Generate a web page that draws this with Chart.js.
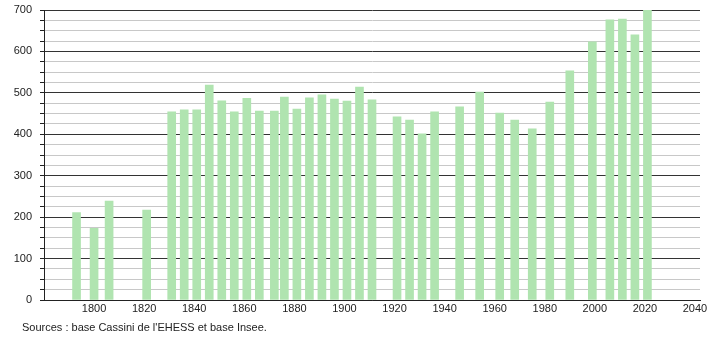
<!DOCTYPE html>
<html>
<head>
<meta charset="utf-8">
<script src="https://cdn.jsdelivr.net/npm/chart.js@4/dist/chart.umd.min.js"></script>
<style>
  body { margin: 0; background: #fff; }
  #wrap { position: relative; width: 710px; height: 340px; }
  #src {
    position: absolute; left: 22px; top: 321px;
    font: 11px "Liberation Sans", Arial, sans-serif; color: #222;
  }
</style>
</head>
<body>
<div id="wrap">
  <canvas id="pop" width="710" height="340"></canvas>
  <div id="src">Sources : base Cassini de l'EHESS et base Insee.</div>
</div>
<script>
// census years and population
const years = [1793, 1800, 1806, 1821, 1831, 1836, 1841, 1846, 1851, 1856, 1861, 1866,
  1872, 1876, 1881, 1886, 1891, 1896, 1901, 1906, 1911, 1921, 1926, 1931, 1936,
  1946, 1954, 1962, 1968, 1975, 1982, 1990, 1999, 2006, 2011, 2016, 2021];
const population = [211, 173, 239, 217, 454, 459, 459, 519, 481, 454, 487, 456,
  456, 490, 461, 488, 495, 485, 480, 514, 483, 442, 434, 401, 454,
  466, 502, 451, 434, 413, 478, 553, 623, 676, 678, 640, 700];
const xTicks = [1800, 1820, 1840, 1860, 1880, 1900, 1920, 1940, 1960, 1980, 2000, 2020, 2040];

const fontSpec = { family: '"Liberation Sans", Arial, sans-serif', size: 11 };

const ctx = document.getElementById('pop').getContext('2d');
new Chart(ctx, {
  type: 'bar',
  data: {
    datasets: [{
      data: years.map((y, i) => ({ x: y, y: population[i] })),
      backgroundColor: '#b0e4b0',
      borderWidth: 0,
      barThickness: 8,
    }],
  },
  options: {
    responsive: false,
    animation: false,
    layout: { padding: { top: 10, right: 10, left: 0, bottom: 0 } },
    plugins: { legend: { display: false }, tooltip: { enabled: false } },
    scales: {
      x: {
        type: 'linear',
        offset: false,
        min: 1780,
        max: 2042,
        afterBuildTicks: (s) => { s.ticks = xTicks.map((v) => ({ value: v })); },
        afterFit: (s) => { s.height = 40; s.paddingLeft = 0; s.paddingRight = 0; },
        grid: { display: false, drawTicks: false, offset: false },
        border: { color: '#222', width: 1 },
        ticks: {
          padding: 2,
          color: '#222',
          font: fontSpec,
          maxRotation: 0,
          autoSkip: false,
          callback: (v) => String(v),
        },
      },
      y: {
        min: 0,
        max: 700,
        afterFit: (s) => { s.width = 44; s.paddingTop = 0; s.paddingBottom = 0; },
        grid: {
          color: (c) => (c.tick && c.tick.value % 100 === 0 ? '#333' : '#c8c8c8'),
          tickColor: '#222',
          tickLength: 4,
        },
        border: { color: '#222', width: 1 },
        ticks: {
          stepSize: 25,
          padding: 8,
          color: '#222',
          font: fontSpec,
          autoSkip: false,
          callback: (v) => (v % 100 === 0 ? v : ''),
        },
      },
    },
  },
});
</script>
</body>
</html>
